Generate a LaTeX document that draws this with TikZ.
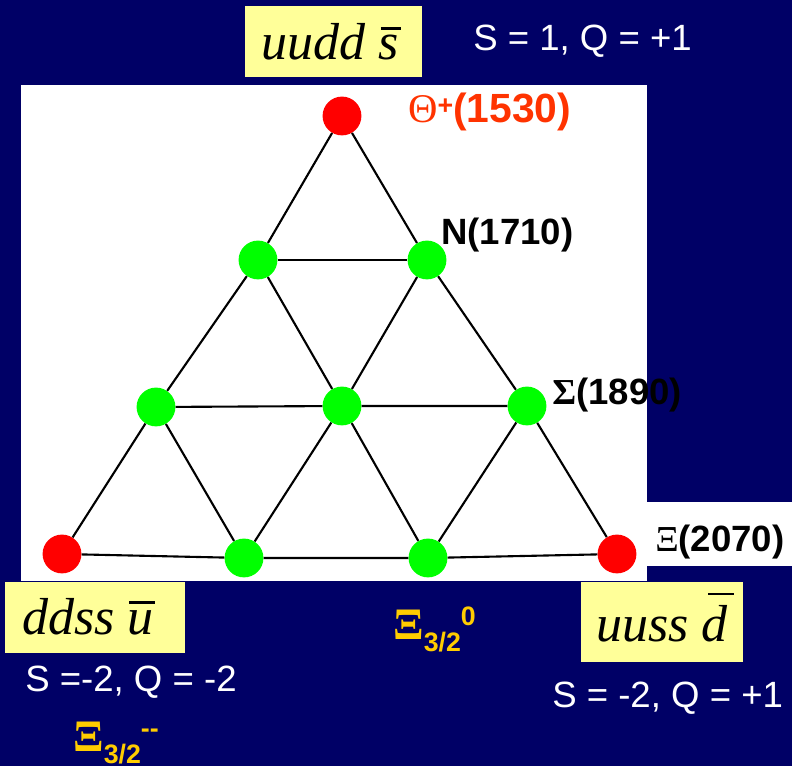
\documentclass[tikz,border=0pt]{standalone}
\usepackage{fontspec}
\setmainfont{Liberation Serif}
\newfontfamily\arial{Liberation Sans}

\definecolor{navy}{RGB}{0,0,102}
\definecolor{paleyellow}{RGB}{255,255,153}
\definecolor{thetared}{RGB}{255,51,0}
\definecolor{xigold}{RGB}{255,204,0}
\definecolor{dotgreen}{RGB}{0,255,0}
\definecolor{dotred}{RGB}{255,0,0}

% 反夸克的横线
\newcommand{\qbar}[3]{\sbox0{#3}\rlap{\kern#2\rule[#1]{\wd0}{0.05em}}\usebox0}
% 希腊字母用衬线体
\newcommand{\grk}[1]{{\rmfamily #1}}

\begin{document}
\begin{tikzpicture}[x=0.025cm, y=-0.025cm,
  dot/.style={circle, inner sep=0, minimum size=0.97cm},
  lbl/.style={anchor=base west, inner sep=0},
  edge/.style={line width=1.5pt, black},
  qnum/.style={lbl, text=white, font=\arial\fontsize{26}{26}\selectfont},
  mass/.style={lbl, text=black, font=\arial\bfseries\fontsize{26}{26}\selectfont},
  quark/.style={lbl, text=black, font=\itshape\fontsize{37}{37}\selectfont},
  xilbl/.style={lbl, text=xigold, font=\arial\bfseries\fontsize{32}{32}\selectfont}]

  % 1. 背景
  \fill[navy] (0,0) rectangle (792,766);
  \useasboundingbox (0,0) rectangle (792,766);
  \fill[white] (21,85) rectangle (647,581);
  \fill[white] (647,502) rectangle (792,566);

  % 2. 十重态的各个态
  \node[dot, fill=dotred] (theta) at (342,116) {};
  \node[dot, fill=dotgreen] (nl) at (258,260) {};
  \node[dot, fill=dotgreen] (nr) at (427,260) {};
  \node[dot, fill=dotgreen] (sl) at (156,407) {};
  \node[dot, fill=dotgreen] (sm) at (342,406) {};
  \node[dot, fill=dotgreen] (sr) at (527,406) {};
  \node[dot, fill=dotred] (xa) at (62,554) {};
  \node[dot, fill=dotgreen] (xb) at (244,558) {};
  \node[dot, fill=dotgreen] (xc) at (428,558) {};
  \node[dot, fill=dotred] (xd) at (617,554) {};

  % 3. 三角形网格
  \draw[edge] (theta) -- (nl) -- (sl) -- (xa) -- (xb) -- (xc) -- (xd) -- (sr) -- (nr) -- (theta);
  \draw[edge] (nl) -- (nr);
  \draw[edge] (sl) -- (sm) -- (sr);
  \draw[edge] (nl) -- (sm) -- (xc);
  \draw[edge] (nr) -- (sm) -- (xb);
  \draw[edge] (sl) -- (xb);
  \draw[edge] (sr) -- (xc);

  % 4. 质量标注
  \node[lbl, text=thetared, font=\arial\bfseries\fontsize{29}{29}\selectfont] (thetalbl) at (408,123)
    {{\rmfamily\mdseries Θ}\raisebox{6pt}{\fontsize{19}{19}\selectfont +}(1530)};
  \node[mass] (nlbl) at (441,245) {N(1710)};
  \node[mass] (slbl) at (552,405) {\grk{Σ}(1890)};
  \node[mass] (xlbl) at (655,552) {{\rmfamily\mdseries Ξ}(2070)};

  % 5. 夸克组成（黄色方框）
  \fill[paleyellow] (245,6) rectangle (422,77);
  \node[quark] (uudds) at (261,60) {uudd \qbar{0.58em}{0.05em}{s}};
  \fill[paleyellow] (5,582) rectangle (185,653);
  \node[quark] (ddssu) at (22,635) {ddss \qbar{0.6em}{0.03em}{u}};
  \fill[paleyellow] (581,582) rectangle (743,662);
  \node[quark] (uussd) at (596,642) {uuss \qbar{0.9em}{0.12em}{d}};

  % 6. 量子数
  \node[qnum] (qtop) at (473,51) {S = 1, Q = +1};
  \node[qnum] (qleft) at (25,692) {S =-2, Q = -2};
  \node[qnum] (qright) at (552,708) {S = -2, Q = +1};

  % 7. 奇异态 Xi(3/2)
  \node[xilbl] (xizero) at (393,640)
    {\grk{Ξ}\raisebox{-8.5pt}{\fontsize{19}{19}\selectfont 3/2}\raisebox{10pt}{\fontsize{19}{19}\selectfont 0}};
  \node[xilbl] (ximinus) at (73,752)
    {\grk{Ξ}\raisebox{-8pt}{\fontsize{19}{19}\selectfont 3/2}\raisebox{10pt}{\fontsize{19}{19}\selectfont -{}-}};

\end{tikzpicture}
\end{document}
